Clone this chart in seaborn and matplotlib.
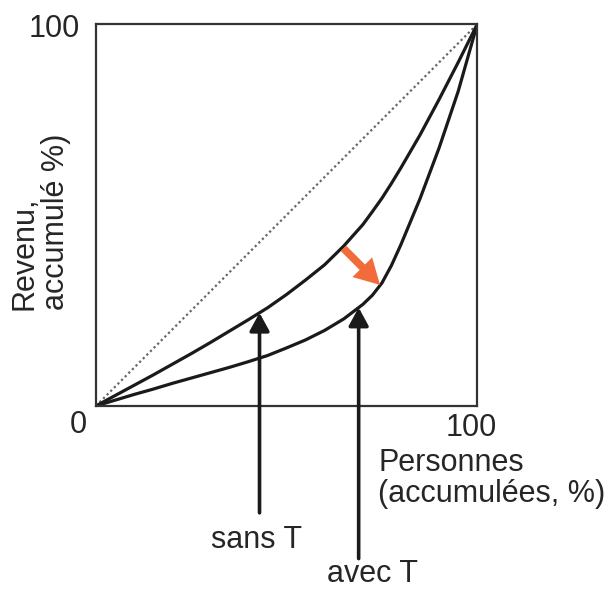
import numpy as np
import pandas as pd
import matplotlib.pyplot as plt
import seaborn as sns

# part cumulée des personnes (%)
personnes = [0, 5, 10, 15, 20, 25, 30, 35, 40, 45, 50, 55, 60, 65,
             70, 72.5, 75, 77.5, 80, 85, 90, 95, 100]
# courbe de Lorenz sans T
sans_t = [0, 2.7, 5.4, 8.1, 10.9, 13.7, 16.6, 19.6, 22.6, 25.7, 29.2, 33.0, 37.0, 41.9,
          47.5, 50.9, 54.4, 58.3, 62.4, 71.0, 80.3, 90.0, 100]
# courbe de Lorenz avec T
avec_t = [0, 1.5, 3.0, 4.4, 5.9, 7.3, 8.7, 10.1, 11.6, 13.2, 15.2, 17.3, 19.8, 22.8,
          26.6, 29.0, 32.2, 36.8, 42.3, 54.3, 67.6, 82.4, 100]
egalite = [0, 100]

# positions des flèches d'étiquettes (x en %)
x_sans, x_avec = 42.9, 68.9

df = pd.DataFrame({"personnes": personnes, "sans T": sans_t, "avec T": avec_t})

sns.set_style("white")
plt.rcParams["font.family"] = ["Liberation Sans", "DejaVu Sans"]

fig = plt.figure(figsize=(6.15, 5.9), dpi=100)
ax = fig.add_axes([0.156, 0.312, 0.620, 0.647])

sns.lineplot(x=egalite, y=egalite, ax=ax, color="#666666", lw=1.6,
             linestyle=(0, (1, 1.3)), sort=False)
sns.lineplot(data=df, x="personnes", y="sans T", ax=ax, color="#1a1a1a", lw=2.3, sort=False)
sns.lineplot(data=df, x="personnes", y="avec T", ax=ax, color="#1a1a1a", lw=2.3, sort=False)

ax.set_xlim(0, 100)
ax.set_ylim(0, 100)
ax.set_xticks([])
ax.set_yticks([])
ax.set_xlabel("")
ax.set_ylabel("")
for s in ax.spines.values():
    s.set_color("#333333")
    s.set_linewidth(1.6)
    s.set_visible(True)

fs = 22
# étiquettes d'axes
ax.text(-4.7, -5, "0", fontsize=fs, ha="center", va="center", clip_on=False)
ax.text(98.5, -5.8, "100", fontsize=fs, ha="center", va="center", clip_on=False)
ax.text(-4.2, 98.7, "100", fontsize=fs, ha="right", va="center", clip_on=False)
ax.text(74.0, -11.0, "Personnes\n(accumulées, %)", fontsize=fs, ha="left", va="top",
        linespacing=1.05, clip_on=False)
ax.text(-14.6, 48.2, "Revenu,\naccumulé %)", fontsize=fs, rotation=90, ha="center",
        va="center", multialignment="left", linespacing=1.1, clip_on=False)

# flèches noires vers les courbes
tip_sans = np.interp(x_sans, personnes, sans_t)
tip_avec = np.interp(x_avec, personnes, avec_t)
arrow_kw = dict(arrowstyle="-|>,head_length=1.1,head_width=0.6", color="#1a1a1a",
                lw=2.6, shrinkA=0, shrinkB=0)
ax.annotate("", xy=(x_sans, tip_sans), xytext=(x_sans, -28),
            arrowprops=arrow_kw, annotation_clip=False)
ax.annotate("", xy=(x_avec, tip_avec), xytext=(x_avec, -40),
            arrowprops=arrow_kw, annotation_clip=False)
ax.text(42.0, -35.1, "sans T", fontsize=fs, ha="center", va="center", clip_on=False)
ax.text(72.4, -44.0, "avec T", fontsize=fs, ha="center", va="center", clip_on=False)

# flèche orange : déplacement de la courbe
ax.annotate("", xy=(74.5, 31.7), xytext=(64.9, 41.3),
            arrowprops=dict(arrowstyle="simple,head_length=1.8,head_width=2.0,tail_width=0.55",
                            color="#f26b3a", lw=0, shrinkA=0, shrinkB=0))

fig.savefig("out.png", dpi=100)
